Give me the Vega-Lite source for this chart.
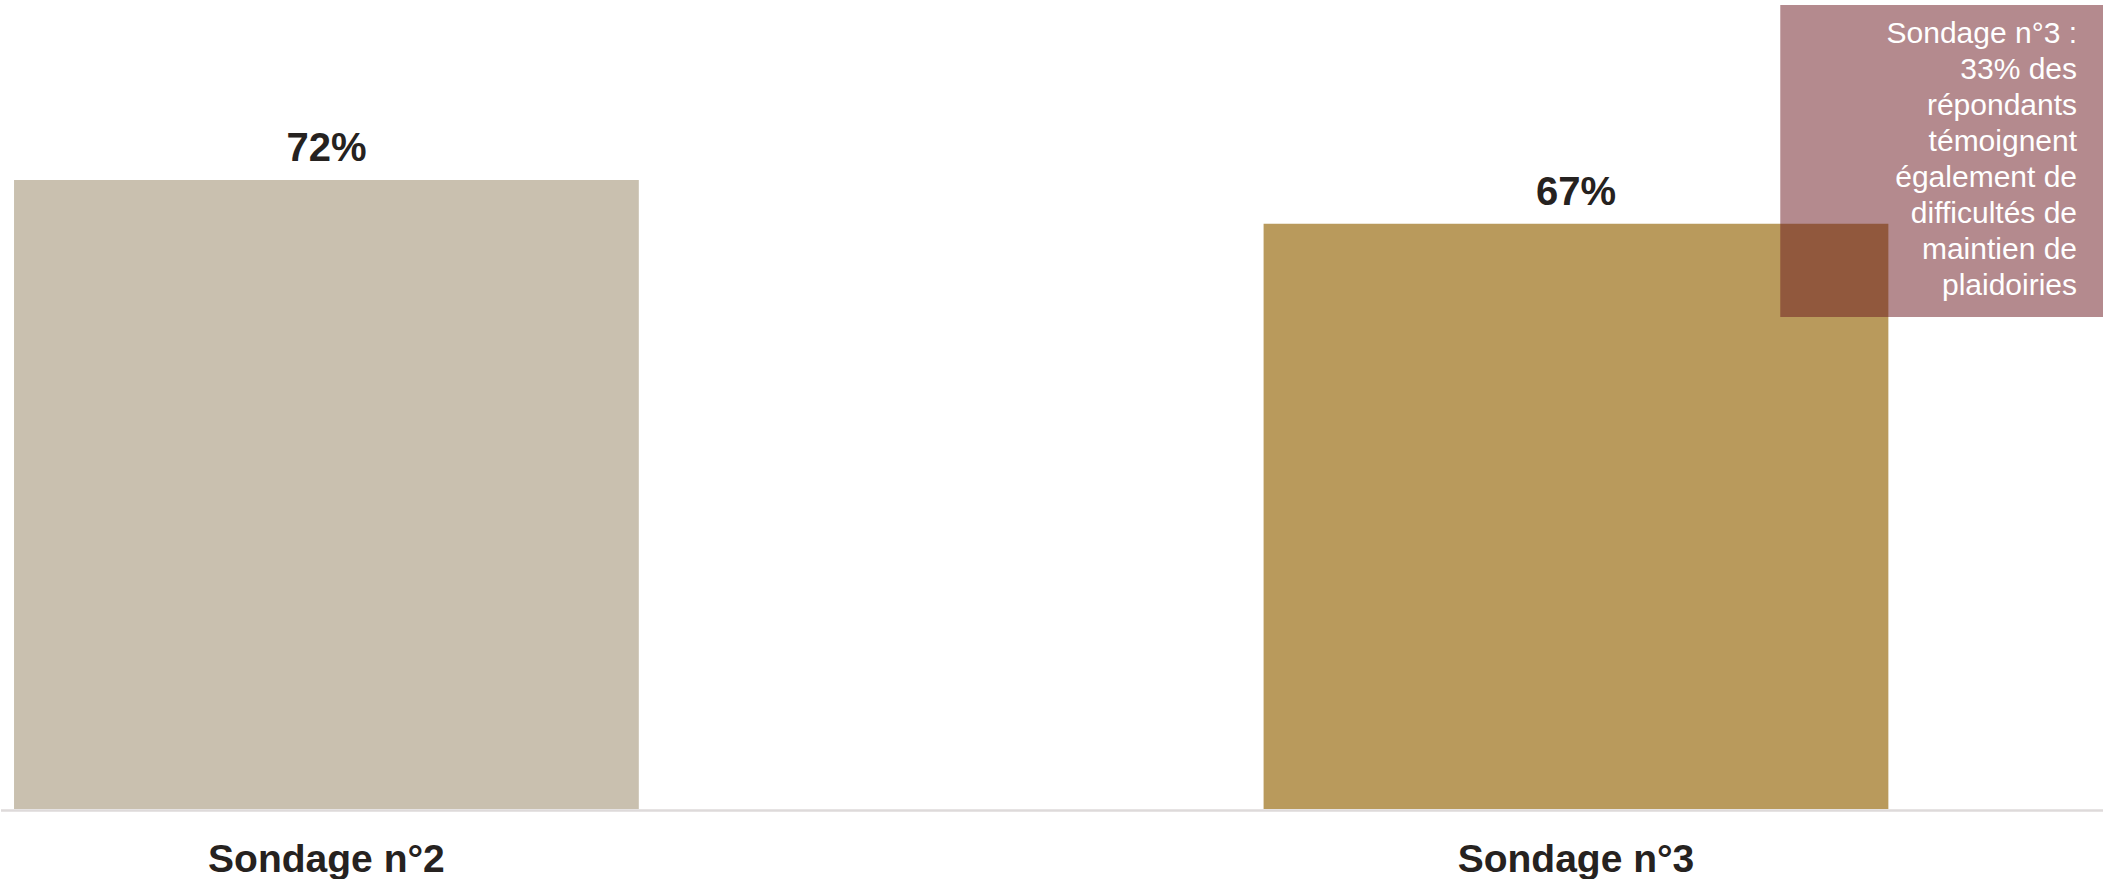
{
  "$schema": "https://vega.github.io/schema/vega-lite/v6.json",
  "width": 2103,
  "height": 809,
  "padding": 0,
  "autosize": {"type": "pad"},
  "background": "white",
  "config": {"view": {"stroke": null}},
  "datasets": {
    "bars": [
      {"category": "Sondage n°2", "share": 0.72},
      {"category": "Sondage n°3", "share": 0.67}
    ],
    "note": [
      {"category": "Sondage n°3", "text": ["Sondage n°3 :", "33% des", "répondants", "témoignent", "également de", "difficultés de", "maintien de", "plaidoiries"]}
    ]
  },
  "layer": [
    {
      "data": {"name": "bars"},
      "mark": {"type": "rule", "color": "#dedada", "strokeWidth": 2, "yOffset": 1.5},
      "encoding": {"y": {"datum": 0, "type": "quantitative", "scale": {"domain": [0, 0.926], "nice": false, "zero": true}, "axis": null}}
    },
    {
      "data": {"name": "bars"},
      "mark": {"type": "bar"},
      "encoding": {
        "x": {
          "field": "category", "type": "nominal", "sort": null,
          "scale": {"paddingInner": 0.5, "paddingOuter": 0.0915, "align": 0.057},
          "axis": {"title": null, "labelAngle": 0, "ticks": false, "domain": false, "labelPadding": 31, "labelLimit": 0,
                   "labelFont": "Liberation Sans", "labelFontSize": 39, "labelFontWeight": "bold", "labelColor": "#262220"}
        },
        "y": {"field": "share", "type": "quantitative", "scale": {"domain": [0, 0.926], "nice": false, "zero": true}, "axis": null},
        "color": {"field": "category", "type": "nominal", "scale": {"range": ["#c9c0af", "#b99a5c"]}, "legend": null}
      }
    },
    {
      "data": {"name": "bars"},
      "mark": {"type": "text", "dy": -19, "baseline": "alphabetic", "font": "Liberation Sans", "fontSize": 40, "fontWeight": "bold", "color": "#262220"},
      "encoding": {
        "x": {"field": "category", "type": "nominal", "sort": null},
        "y": {"field": "share", "type": "quantitative"},
        "text": {"field": "share", "type": "quantitative", "format": ".0%"}
      }
    },
    {
      "data": {"name": "note"},
      "mark": {"type": "rect", "color": "#69151d", "opacity": 0.5},
      "encoding": {
        "x": {"field": "category", "type": "nominal", "bandPosition": 0.827},
        "x2": {"field": "category", "bandPosition": 1.3456},
        "y": {"datum": 0.9203, "type": "quantitative"},
        "y2": {"datum": 0.5632}
      }
    },
    {
      "data": {"name": "note"},
      "mark": {"type": "text", "align": "right", "baseline": "alphabetic", "font": "Liberation Sans", "fontSize": 30, "lineHeight": 36, "color": "white"},
      "encoding": {
        "x": {"field": "category", "type": "nominal", "bandPosition": 1.302},
        "y": {"datum": 0.8768, "type": "quantitative"},
        "text": {"field": "text"}
      }
    }
  ]
}
